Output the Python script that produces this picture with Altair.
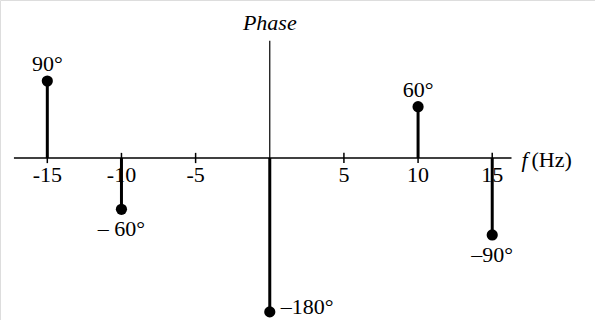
import altair as alt
import pandas as pd

# Phase spectrum: frequency (Hz) and phase (degrees) of each spectral line
freqs = [-15, -10, 0, 10, 15]
phases = [90, -60, -180, 60, -90]
phase_labels = ["90°", "– 60°", "–180°", "60°", "–90°"]

# Frequency axis ticks
tick_values = [-15, -10, -5, 5, 10, 15]
tick_labels = ["-15", "-10", "-5", "5", "10", "15"]

# Extent of the drawn axes
freq_axis_span = [-17.25, 16.3]   # Hz
phase_axis_top = 137              # degrees

W, H = 595, 320
FONT = "Liberation Serif"
FS = 22

lines = pd.DataFrame({"f": freqs, "phase": phases, "label": phase_labels, "base": 0})
ticks = pd.DataFrame({"f": tick_values, "label": tick_labels, "lo": -6, "hi": 6, "zero": 0})
faxis = pd.DataFrame({"f": [freq_axis_span[0]], "f2": [freq_axis_span[1]], "y": [0]})
paxis = pd.DataFrame({"f": [0], "y": [0], "y2": [phase_axis_top]})
fend = pd.DataFrame({"f": [freq_axis_span[1]], "y": [0]})

xs = alt.Scale(domain=[-18.19, 21.93], nice=False, zero=False)
ys = alt.Scale(domain=[-189.5, 184.8], nice=False, zero=False)
X = lambda field: alt.X(field, type="quantitative", scale=xs, axis=None)
Y = lambda field: alt.Y(field, type="quantitative", scale=ys, axis=None)

# Horizontal frequency axis
f_axis = alt.Chart(faxis).mark_rule(color="black", strokeWidth=1.5).encode(
    x=X("f"), x2="f2", y=Y("y")
)
# Vertical phase axis
p_axis = alt.Chart(paxis).mark_rule(color="black", strokeWidth=1.2).encode(
    x=X("f"), y=Y("y"), y2="y2"
)
tick_marks = alt.Chart(ticks).mark_rule(color="black", strokeWidth=1.5).encode(
    x=X("f"), y=Y("lo"), y2="hi"
)
tick_text = alt.Chart(ticks).mark_text(
    font=FONT, fontSize=FS, baseline="alphabetic", align="center", dy=24, color="black"
).encode(x=X("f"), y=Y("zero"), text="label:N")

phase_title = alt.Chart(paxis).mark_text(
    font=FONT, fontSize=FS, fontStyle="italic", baseline="alphabetic",
    align="center", dy=-11, color="black"
).encode(x=X("f"), y=Y("y2"), text=alt.value("Phase"))

f_sym = alt.Chart(fend).mark_text(
    font=FONT, fontSize=FS, fontStyle="italic", baseline="alphabetic",
    align="left", dx=10, dy=9, color="black"
).encode(x=X("f"), y=Y("y"), text=alt.value("f"))
f_unit = alt.Chart(fend).mark_text(
    font=FONT, fontSize=FS, baseline="alphabetic",
    align="left", dx=20, dy=9, color="black"
).encode(x=X("f"), y=Y("y"), text=alt.value("(Hz)"))

# Spectral lines with a dot at the tip
stems = alt.Chart(lines).mark_rule(color="black", strokeWidth=3).encode(
    x=X("f"), y=Y("phase"), y2="base"
)
dots = alt.Chart(lines).mark_point(
    filled=True, color="black", opacity=1, size=125, shape="circle"
).encode(x=X("f"), y=Y("phase"))

lab_base = alt.Chart(lines)
lab_above = lab_base.transform_filter("datum.phase > 0").mark_text(
    font=FONT, fontSize=FS, baseline="alphabetic", align="center", dy=-10, color="black"
).encode(x=X("f"), y=Y("phase"), text="label:N")
lab_below = lab_base.transform_filter("datum.phase < 0 && datum.phase > -180").mark_text(
    font=FONT, fontSize=FS, baseline="alphabetic", align="center", dy=27, color="black"
).encode(x=X("f"), y=Y("phase"), text="label:N")
lab_right = lab_base.transform_filter("datum.phase <= -180").mark_text(
    font=FONT, fontSize=FS, baseline="middle", align="left", dx=11, dy=-5, color="black"
).encode(x=X("f"), y=Y("phase"), text="label:N")

chart = alt.layer(
    tick_text, f_axis, p_axis, tick_marks, phase_title, f_sym, f_unit,
    stems, dots, lab_above, lab_below, lab_right
).properties(
    width=W, height=H, padding=0, autosize=alt.AutoSizeParams(type="none")
).configure_view(stroke=None).configure(background="white")

chart.save("out.html", embed_options={"renderer": "svg", "actions": False})
